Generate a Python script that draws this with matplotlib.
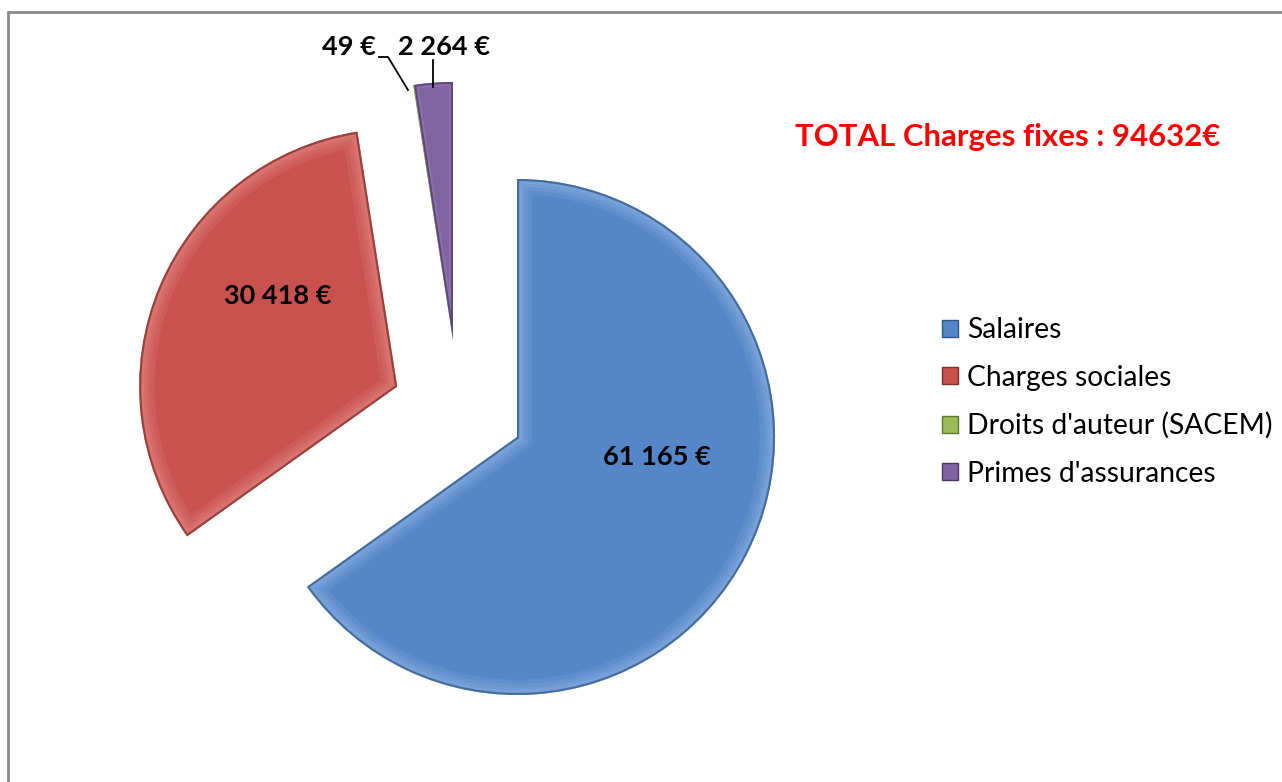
import matplotlib
matplotlib.use("Agg")
import matplotlib.pyplot as plt
from matplotlib.patches import Rectangle, Wedge
from matplotlib.lines import Line2D

# ---- data ----
categories = ["Salaires", "Charges sociales", "Droits d'auteur (SACEM)", "Primes d'assurances"]
values = [61165, 30418, 49, 2264]
title_text = "TOTAL Charges fixes : 94632€"

colors = ["#5586C7", "#C9524F", "#9BBB59", "#8064A2"]
edge_colors = ["#2F5688", "#7E2A28", "#5E7A30", "#4A3566"]
light_colors = ["#A9CBF2", "#F2A6A3", "#CFE3A6", "#C7B4E3"]


def fmt(v):
    return f"{v:,}".replace(",", " ") + " €"


plt.rcParams['font.family'] = ['Lato', 'DejaVu Sans']
W, H = 1282, 782
fig = plt.figure(figsize=(W / 100, H / 100), dpi=100)
ax = fig.add_axes([0, 0, 1, 1])

cx, cy, R = 517, H - 437, 258
wedges, _ = ax.pie(values, colors=colors, startangle=90, counterclock=False,
                   center=(cx, cy), radius=R, explode=[0, 130, 0, 0],
                   wedgeprops=dict(linewidth=0))
# small slices pulled out toward the top
wedges[2].set_center((453, H - 340))
wedges[3].set_center((453, H - 340))

# soft bevel look: graded light inner band + dark rim, clipped to each slice
for i, (w, ec, lc) in enumerate(zip(wedges, edge_colors, light_colors)):
    widths = [22, 16, 11, 7] if i < 2 else [6, 4]
    for lw in widths:
        hl = Wedge(w.center, w.r, w.theta1, w.theta2, fill=False,
                   edgecolor=lc, lw=lw, alpha=0.13, zorder=w.get_zorder() + 0.1)
        ax.add_patch(hl)
        hl.set_clip_path(w)
    rim = Wedge(w.center, w.r, w.theta1, w.theta2, fill=False,
                edgecolor=ec, lw=3, alpha=0.7, zorder=w.get_zorder() + 0.2)
    ax.add_patch(rim)
    rim.set_clip_path(w)

ax.set_xlim(0, W)
ax.set_ylim(0, H)
ax.axis('off')

# data labels
lab_kw = dict(fontsize=19.5, fontweight='bold', color='black', ha='center', va='center', zorder=5)
ax.text(657, H - 457, fmt(values[0]), **lab_kw)
ax.text(278, H - 296, fmt(values[1]), **lab_kw)
ax.text(376, H - 47, fmt(values[2]), fontsize=19.5, fontweight='bold', ha='right', va='center')
ax.text(444, H - 47, fmt(values[3]), **lab_kw)
# leader lines
ax.add_line(Line2D([379, 388, 408], [H - 57, H - 57, H - 90], color='black', lw=1.3))
ax.add_line(Line2D([433, 433], [H - 60, H - 87], color='black', lw=1.3))

# title
ax.text(795, H - 137, title_text, fontsize=22.4, fontweight='bold', color='#FF0000',
        ha='left', va='center')

# legend
leg = fig.legend(wedges, categories, loc='center left',
                 bbox_to_anchor=(942 / W, 1 - 402 / H), frameon=False,
                 fontsize=20.3, handlelength=0.55, handleheight=0.55,
                 handletextpad=0.35, labelspacing=0.76, borderpad=0, borderaxespad=0)
for h, ec in zip(leg.legend_handles, edge_colors):
    h.set_edgecolor(ec)
    h.set_linewidth(1)

# outer frame
fig.patches.append(Rectangle((8 / W, -0.1), 1.2, 1.1 - 12 / H, transform=fig.transFigure,
                             fill=False, edgecolor='#888888', lw=2))

fig.savefig("out.png", dpi=100)
